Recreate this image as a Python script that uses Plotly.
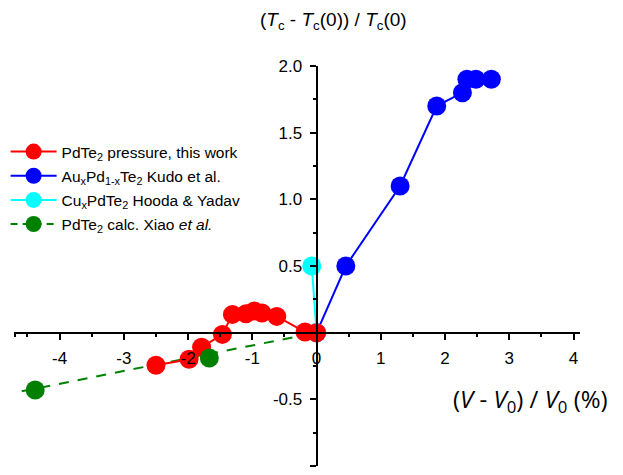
import plotly.graph_objects as go

# PdTe2 under pressure (this work)
press_dv = [-2.50, -1.985, -1.79, -1.466, -1.31, -1.10, -0.97, -0.85, -0.62, -0.18, 0.0]
press_dtc = [-0.245, -0.20, -0.11, -0.013, 0.137, 0.142, 0.162, 0.147, 0.122, 0.005, 0.0]

# AuxPd1-xTe2, Kudo et al.
kudo_dv = [0.0, 0.455, 1.30, 1.87, 2.27, 2.34, 2.48, 2.72]
kudo_dtc = [0.0, 0.50, 1.10, 1.70, 1.80, 1.90, 1.90, 1.90]

# CuxPdTe2, Hooda & Yadav
hooda_dv = [0.0, -0.075]
hooda_dtc = [0.0, 0.50]

# PdTe2 calculation, Xiao et al.
xiao_dv = [-4.38, -1.67]
xiao_dtc = [-0.43, -0.19]
xiao_fit_dv = [-4.59, 0.0]
xiao_fit_dtc = [-0.44, 0.0]

x_major = [-4, -3, -2, -1, 0, 1, 2, 3, 4]
x_minor = [-4.7, -4.5, -3.5, -2.5, -1.5, -0.5, 0.5, 1.5, 2.5, 3.5]
y_major = [-1.0, -0.5, 0.5, 1.0, 1.5, 2.0]
y_major_text = ["-1.0", "-0.5", "0.5", "1.0", "1.5", "2.0"]
y_minor = [-0.75, -0.25, 0.25, 0.75, 1.25, 1.75]

X_RANGE = [-4.71, 4.10]
Y_RANGE = [-1.0, 2.0]

RED, BLUE, CYAN, GREEN = "#FF0000", "#0000FF", "#00FFFF", "#008000"
MS = 19
LW = 2
DASH = "10px,9px"

fig = go.Figure()

fig.add_trace(go.Scatter(x=xiao_fit_dv, y=xiao_fit_dtc, mode="lines",
                         line=dict(color=GREEN, width=LW, dash=DASH),
                         showlegend=False, hoverinfo="skip"))
fig.add_trace(go.Scatter(x=kudo_dv, y=kudo_dtc, mode="lines+markers",
                         name="Au<sub>x</sub>Pd<sub>1-x</sub>Te<sub>2</sub> Kudo et al.",
                         line=dict(color=BLUE, width=LW),
                         marker=dict(color=BLUE, size=MS),
                         legendrank=2, legendgroup="b"))
fig.add_trace(go.Scatter(x=hooda_dv, y=hooda_dtc, mode="lines+markers",
                         name="Cu<sub>x</sub>PdTe<sub>2</sub> Hooda &amp; Yadav",
                         line=dict(color=CYAN, width=LW),
                         marker=dict(color=CYAN, size=MS),
                         legendrank=3, legendgroup="c"))
fig.add_trace(go.Scatter(x=press_dv, y=press_dtc, mode="lines+markers",
                         name="PdTe<sub>2</sub> pressure, this work",
                         line=dict(color=RED, width=LW),
                         marker=dict(color=RED, size=MS),
                         legendrank=1, legendgroup="a"))
fig.add_trace(go.Scatter(x=xiao_dv, y=xiao_dtc, mode="markers",
                         marker=dict(color=GREEN, size=MS),
                         showlegend=False))
fig.add_trace(go.Scatter(x=[None], y=[None], mode="lines+markers",
                         name="PdTe<sub>2</sub> calc. Xiao <i>et al.</i>",
                         line=dict(color=GREEN, width=LW, dash="7px,5px"),
                         marker=dict(color=GREEN, size=MS),
                         legendrank=4, legendgroup="d"))

# axes cross at the origin
x_pos = (0 - Y_RANGE[0]) / (Y_RANGE[1] - Y_RANGE[0])
y_pos = (0 - X_RANGE[0]) / (X_RANGE[1] - X_RANGE[0])
tick_font = dict(family="Liberation Sans, Arial, sans-serif", size=17, color="black")

common_x = dict(range=X_RANGE, domain=[0, 1], anchor="free", position=x_pos,
                showgrid=False, zeroline=False, tickvals=x_major,
                tickwidth=2, ticklen=6, tickcolor="black", fixedrange=True)
common_y = dict(range=Y_RANGE, domain=[0, 1], anchor="free", position=y_pos,
                showgrid=False, zeroline=False, tickvals=y_major,
                tickwidth=2, ticklen=6, tickcolor="black", fixedrange=True)

fig.update_layout(
    width=623, height=475,
    margin=dict(l=14, r=43, t=66, b=9, autoexpand=False),
    paper_bgcolor="white", plot_bgcolor="white",
    font=dict(family="Liberation Sans, Arial, sans-serif", color="black"),
    xaxis=dict(**common_x, showline=True, linecolor="black", linewidth=2,
               ticks="outside", ticktext=[str(v) for v in x_major],
               tickfont=tick_font, ticklabelstandoff=4,
               minor=dict(tickvals=x_minor, ticks="outside", ticklen=3,
                          tickwidth=2, tickcolor="black")),
    xaxis2=dict(**common_x, overlaying="x", showline=False, ticks="inside",
                showticklabels=False,
                minor=dict(tickvals=x_minor, ticks="inside", ticklen=3,
                           tickwidth=2, tickcolor="black")),
    yaxis=dict(**common_y, showline=True, linecolor="black", linewidth=2,
               ticks="outside", ticktext=y_major_text,
               tickfont=tick_font, ticklabelstandoff=4,
               minor=dict(tickvals=y_minor, ticks="outside", ticklen=3,
                          tickwidth=2, tickcolor="black")),
    yaxis2=dict(**common_y, overlaying="y", showline=False, ticks="inside",
                showticklabels=False,
                minor=dict(tickvals=y_minor, ticks="inside", ticklen=3,
                           tickwidth=2, tickcolor="black")),
    legend=dict(xref="container", yref="container", x=0.009, y=1 - 135 / 475,
                xanchor="left", yanchor="top", bgcolor="rgba(0,0,0,0)",
                font=dict(family="Liberation Sans, Arial, sans-serif", size=15.5),
                tracegroupgap=1, itemwidth=46),
    showlegend=True,
)


def px_to_paper(px, py):
    return (px - 14) / 566, (466 - py) / 400


tx, ty = px_to_paper(333, 21)
fig.add_annotation(x=tx, y=ty, xref="paper", yref="paper", showarrow=False,
                   xanchor="center", yanchor="middle",
                   text="(<i>T</i><sub>c</sub> - <i>T</i><sub>c</sub>(0)) / <i>T</i><sub>c</sub>(0)",
                   font=dict(family="Liberation Sans, Arial, sans-serif", size=19))
bx, by = px_to_paper(530, 400)
fig.add_annotation(x=bx, y=by, xref="paper", yref="paper", showarrow=False,
                   xanchor="center", yanchor="middle",
                   text="(<i>V</i> - <i>V</i><sub>0</sub>) / <i>V</i><sub>0</sub> (%)",
                   font=dict(family="Open Sans, sans-serif", size=24))

fig.write_html("out.html")
